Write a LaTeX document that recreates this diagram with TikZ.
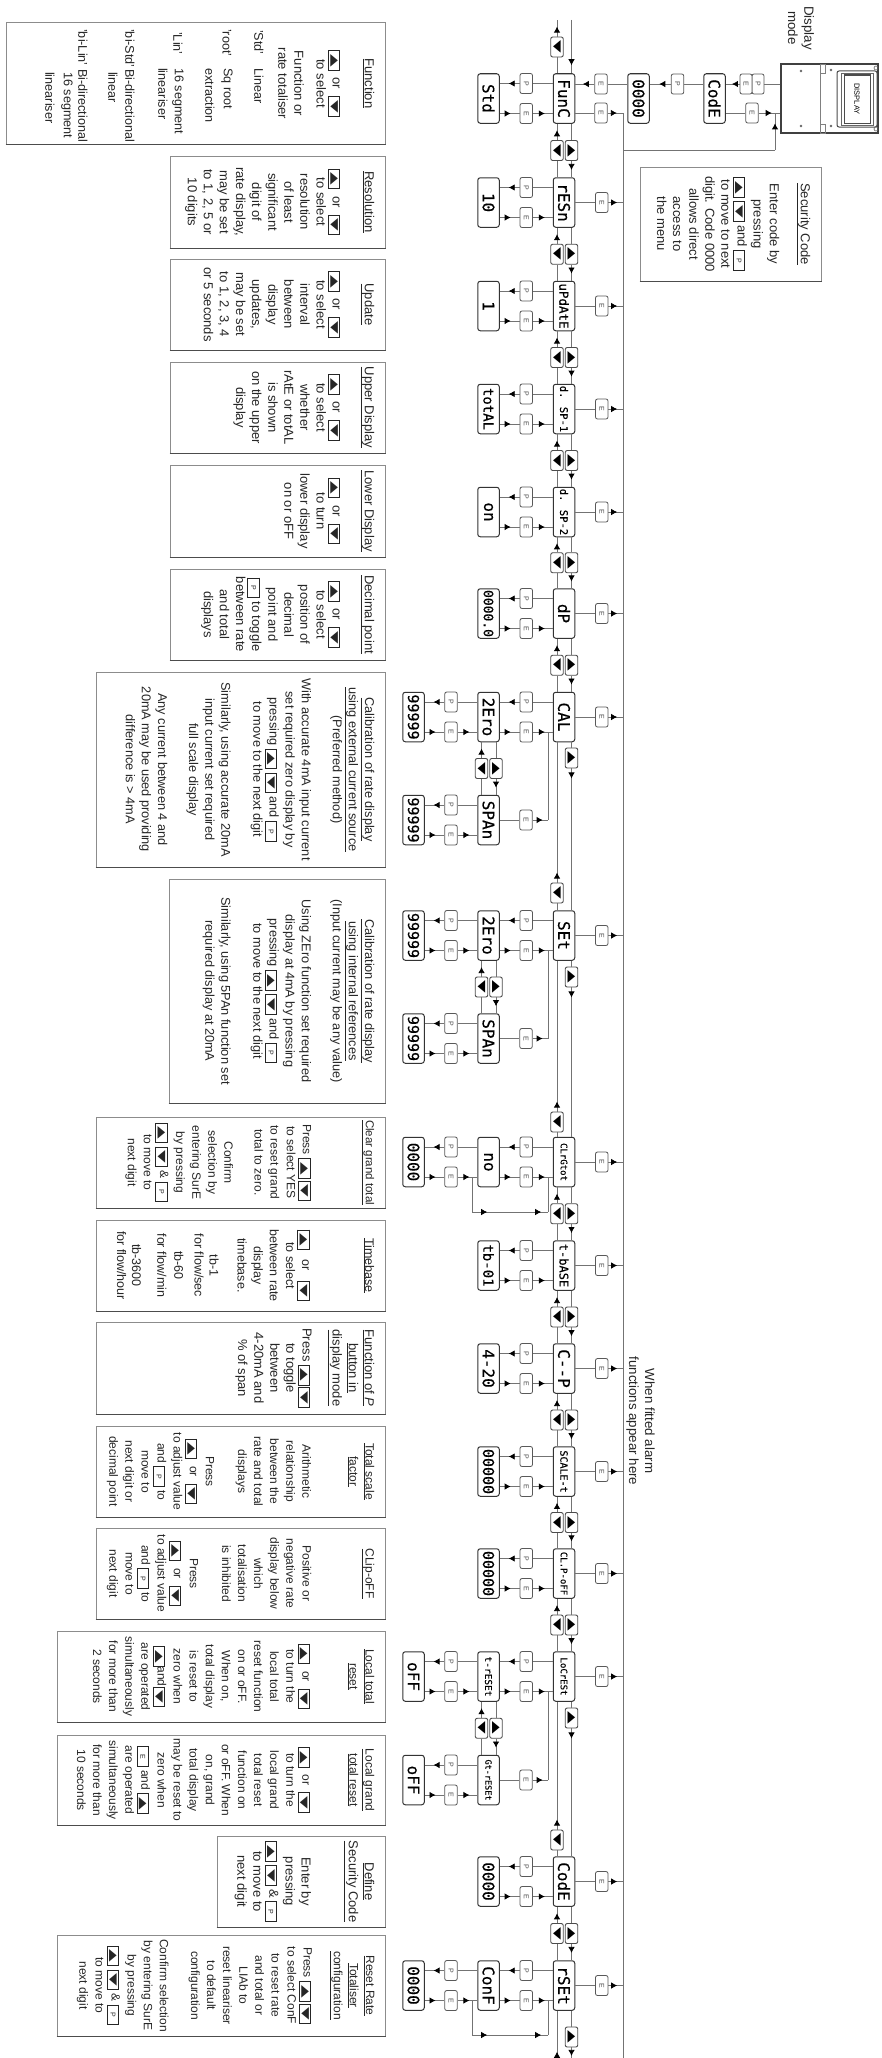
\documentclass[tikz,border=0pt]{standalone}
\usepackage{fontspec}
\usepackage{graphicx}
\setmainfont{Liberation Sans}
\newfontfamily\segfont[FakeBold=0.4]{DejaVu Sans Mono}
\newfontfamily\symf{DejaVu Sans}
\usetikzlibrary{arrows.meta,calc,decorations.markings}
\tikzset{
  conn/.style={draw=black!55,line width=.8pt},
  arrowat/.style={postaction={decorate,decoration={markings,mark=at position #1 with {\arrow{Latex[length=6pt,width=6.5pt,color=black]}}}}},
  seg/.style={draw=black!80,line width=1pt,rounded corners=2.5pt,minimum width=21.5pt,minimum height=49.5pt,inner sep=0pt,fill=white},
  pb/.style={draw=black!65,line width=.8pt,rounded corners=2pt,minimum width=12.5pt,minimum height=20pt,inner sep=0pt,fill=white,text=black!70},
  tb/.style={draw=black!70,line width=.9pt,rounded corners=2pt,minimum width=12.5pt,minimum height=20pt,inner sep=0pt,fill=white},
  panel/.style={draw=black!45,line width=1pt,inner sep=0pt},
  panelbot/.style={draw=black!70,line width=1.6pt},
  paneltext/.style={align=center,inner sep=0pt,text=black!85,font=\fontsize{13}{16.1}\selectfont},
  narrow/.style={font=\fontsize{12}{16.1}\selectfont},
  plain/.style={inner sep=0pt,text=black!85,font=\fontsize{13.3}{16.1}\selectfont},
  plainb/.style={inner sep=0pt,text=black!85,font=\fontsize{12.6}{16.1}\selectfont},
}
\newcommand\ttl[1]{$\underline{\hbox{#1}}$}
\newcommand\ibtn[1]{\raisebox{-1.6pt}{\smash{\setlength\fboxsep{0pt}\setlength\fboxrule{.9pt}\fbox{\parbox[c][10.5pt][c]{18.5pt}{\centering #1}}}}}
\newcommand\tri[1]{{\symf\fontsize{11}{11}\selectfont\scalebox{1.5}[.9]{#1}}}
\newcommand\bU{\ibtn{\tri{▲}}}
\newcommand\bD{\ibtn{\tri{▼}}}
\newcommand\bP{\ibtn{\fontsize{7}{7}\selectfont P}}
\newcommand\bE{\ibtn{\fontsize{7}{7}\selectfont E}}
\newcommand\orr{\bU\hspace{7pt}or\hspace{7pt}\bD}
\newcommand\bb{\bU\hspace{2pt}\bD}
\newcommand\rlab[2]{\rotatebox{-90}{\fontsize{#1}{#1}\selectfont #2}}
\newcommand\segbox[5]{\node[seg] (#1) at (#2,#3) {\rotatebox{-90}{\fontsize{#4}{#4}\selectfont\segfont #5}};}
% [opts] id, xleft, xright, ytop, ybottom, text
\newcommand\notepanel[7][]{%
  \node[panel,minimum width={(#4-#3)*1pt},minimum height={(#6-#5)*1pt}] (n#2) at ({(#4+#3)/2},{(#5+#6)/2}) {};
  \draw[panelbot] (n#2.south west) -- (n#2.south east);
  \node[paneltext,#1,rotate=-90,anchor=north] (t#2) at ({#4-10.5},{(#5+#6)/2}) {#7};
}
% P and E pair between right box #1 and left box #2
\newcommand\pepair[3]{%
  \node[pb,yshift=15pt] (#3p) at ($(#1.west)!.5!(#2.east)$) {\rlab{7}{P}};
  \node[pb,yshift=-15pt] (#3e) at ($(#1.west)!.5!(#2.east)$) {\rlab{7}{E}};
  \draw[conn] (#1.west |- #3p) -- (#3p);
  \draw[conn,arrowat=.55] (#3p) -- (#2.east |- #3p);
  \draw[conn,arrowat=.55] (#2.east |- #3e) -- (#3e);
  \draw[conn,arrowat=.6] (#3e) -- (#1.west |- #3e);
}
% E button to the bus
\newcommand\toBus[1]{%
  \node[pb] (#1r) at ($(#1.east)+(26.5,0)$) {\rlab{7}{E}};
  \draw[conn] (#1) -- (#1r);
  \draw[conn,arrowat=.6] (#1r) -- (#1r -| bus);
}
% id y fs label vfs vlabel
\newcommand\menucore[6]{%
  \segbox{m#1}{564}{#2}{#3}{#4}
  \segbox{v#1}{488.5}{#2}{#5}{#6}
  \pepair{m#1}{v#1}{pm#1}
}
\newcommand\menuitem[6]{\menucore{#1}{#2}{#3}{#4}{#5}{#6}\toBus{m#1}}
% adjacent boxes with two buttons
\newcommand\lnk[3]{%
  \node[tb,xshift=-7pt] (#3u) at ($(#1.south)!.5!(#2.north)$) {\rlab{12}{\tri{▼}}};
  \node[tb,xshift=7.5pt] (#3d) at ($(#1.south)!.5!(#2.north)$) {\rlab{12}{\tri{▲}}};
  \draw[conn] (#2.north -| #3u) -- (#3u);
  \draw[conn,arrowat=.6] (#3u) -- (#1.south -| #3u);
  \draw[conn] (#1.south -| #3d) -- (#3d);
  \draw[conn,arrowat=.55] (#3d) -- (#2.north -| #3d);
}
% boxes far apart: a, b, y of the down button, y of the up button, id
\newcommand\longlnk[5]{%
  \node[tb] (#5u) at (557,#4) {\rlab{12}{\tri{▼}}};
  \node[tb] (#5d) at (571.5,#3) {\rlab{12}{\tri{▲}}};
  \draw[conn] (#2.north -| #5u) -- (#5u);
  \draw[conn,arrowat=10pt] (#5u) -- (#1.south -| #5u);
  \draw[conn] (#1.south -| #5d) -- (#5d);
  \draw[conn,arrowat=10pt] (#5d) -- (#2.north -| #5d);
}
\begin{document}
\begin{tikzpicture}[x=1pt,y=-1pt]
\useasboundingbox[fill=white] (0,0) rectangle (881,2058);
\coordinate (bus) at (623,113);
\coordinate (busend) at (623,2058);
\coordinate (vc) at (548,0);
\draw[conn] (bus) -- (busend);
% device
\node[draw=black!75,line width=1.2pt,minimum width=97pt,minimum height=69pt,inner sep=0pt] (dev) at (829.5,98.5) {};
\draw[black!75,line width=1.6pt] (dev.north west) -- (dev.south west) -- (dev.south east);
\draw[black!50,line width=.7pt] (820,64) -- (820,133) (820,64) rectangle (825,73) (820,124) rectangle (825,133);
\draw[black!70,line width=1pt,rounded corners=2pt] (837,71) rectangle (877,127);
\node[draw=black!70,line width=1pt,minimum width=26pt,minimum height=48pt,inner sep=0pt] (devscreen) at (857,99) {\rlab{7.5}{DISPLAY}};
\draw[black!60,line width=.8pt] (841,73) rectangle (873,125);
\foreach \px/\py in {801/71,801/126,831/70,831/126}{\fill[black!60] (\px,\py) circle (1.3pt);}
\foreach \py in {68,129}{\draw[black!60,line width=.6pt] (876,\py) circle (2pt);}
\node[plain,align=center,rotate=-90,anchor=center] (dmode) at (801,28) {Display\\mode};
% top row
\segbox{top1}{714.5}{98.5}{16}{CodE}
\segbox{top0}{638.5}{98.5}{16}{0000}
\node[pb,minimum width=12pt] (cdP) at (758,84) {\rlab{7}{P}};
\node[pb,minimum width=12pt] (cdE) at (746,84) {\rlab{7}{E}};
\node[pb] (cdR) at (752,113) {\rlab{7}{E}};
\draw[conn] (dev.west |- cdP) -- (cdP);
\draw[conn,arrowat=.55] (cdE) -- (top1.east |- cdE);
\draw[conn] (top1.east |- cdR) -- (cdR);
\draw[conn,arrowat=.6] (cdR) -- (dev.west |- cdR);
\coordinate (retn) at (775,150);
\draw[conn] (bus |- retn) -- (retn);
\draw[conn,arrowat=.72] (retn) -- (retn |- cdR);
\node[pb] (tp) at (677.5,84) {\rlab{7}{P}};
\draw[conn] (top1.west |- tp) -- (tp);
\draw[conn,arrowat=.55] (tp) -- (top0.east |- tp);
% menu
\menucore{1}{98.5}{16}{FunC}{16}{Std}
\node[pb] (te) at (601,84) {\rlab{7}{E}};
\draw[conn] (top0.west |- te) -- (te);
\draw[conn,arrowat=.6] (te) -- (m1.east |- te);
\node[pb] (te2) at (601,113) {\rlab{7}{E}};
\menuitem{2}{202.5}{16}{rESn}{16}{10}
\menuitem{3}{306}{12.5}{uPdAtE}{16}{1}
\menuitem{4}{409}{10.5}{d. SP-1}{14}{totAL}
\menuitem{5}{512}{10.5}{d. SP-2}{16}{on}
\menuitem{6}{613.5}{16}{dP}{13}{0000.0}
\menuitem{7}{717}{16}{CAL}{16}{2Ero}
\menuitem{8}{935.5}{16}{SEt}{16}{2Ero}
\menuitem{9}{1162}{9}{CLrGtot}{16}{no}
\menuitem{10}{1265.5}{12}{t-bASE}{14}{tb-01}
\menuitem{11}{1368.5}{16}{C--P}{16}{4-20}
\menuitem{12}{1471.5}{10}{SCALE-t}{15}{00000}
\menuitem{13}{1573.5}{9}{CL.P-oFF}{15}{00000}
\menuitem{14}{1676.5}{9}{LoCrESt}{9.5}{t-rESEt}
\menuitem{15}{1881.5}{16}{CodE}{16}{0000}
\menuitem{16}{1985.5}{16}{rSEt}{16}{ConF}
\draw[conn,arrowat=.6] (te2) -- (bus);
\draw[conn] (m1.east |- te2) -- (te2);
% links
\lnk{m1}{m2}{a1}
\lnk{m2}{m3}{a2}
\lnk{m3}{m4}{a3}
\lnk{m4}{m5}{a4}
\lnk{m5}{m6}{a5}
\lnk{m6}{m7}{a6}
\longlnk{m7}{m8}{758}{893}{a7}
\longlnk{m8}{m9}{977}{1122}{a8}
\lnk{m9}{m10}{a9}
\lnk{m10}{m11}{a10}
\lnk{m11}{m12}{a11}
\lnk{m12}{m13}{a12}
\lnk{m13}{m14}{a13}
\longlnk{m14}{m15}{1718}{1840}{a14}
\lnk{m15}{m16}{a15}
% ends of the chain
\coordinate (topU) at (557,20);
\coordinate (topD) at (571.5,20);
\node[tb] (enu) at (557,47) {\rlab{12}{\tri{▼}}};
\draw[conn] (m1.north -| enu) -- (enu);
\draw[conn,arrowat=.6] (enu) -- (topU);
\draw[conn,arrowat=-8pt] (topD) -- (m1.north -| topD);
\coordinate (botU) at (557,2058);
\coordinate (botD) at (571.5,2058);
\node[tb] (end) at (571.5,2037) {\rlab{12}{\tri{▲}}};
\draw[conn] (m16.south -| end) -- (end);
\draw[conn,arrowat=.8] (end) -- (botD);
\draw[conn,arrowat=-41pt] (botU) -- (m16.south -| botU);
% second level: CAL
\segbox{w7a}{413.5}{717}{15}{99999}
\pepair{v7}{w7a}{q7}
\segbox{x7}{488.5}{820}{16}{SPAn}
\segbox{w7b}{413.5}{820}{15}{99999}
\pepair{x7}{w7b}{r7}
\lnk{v7}{x7}{b7}
\node[pb] (x7r) at (526,820) {\rlab{7}{E}};
\draw[conn] (x7) -- (x7r);
\draw[conn,arrowat=.65] (x7r) -- (vc |- x7r);
\draw[conn] (vc |- x7r) -- (vc |- pm7e);
% second level: SEt
\segbox{w8a}{413.5}{935.5}{15}{99999}
\pepair{v8}{w8a}{q8}
\segbox{x8}{488.5}{1038.5}{16}{SPAn}
\segbox{w8b}{413.5}{1038.5}{15}{99999}
\pepair{x8}{w8b}{r8}
\lnk{v8}{x8}{b8}
\node[pb] (x8r) at (526,1038.5) {\rlab{7}{E}};
\draw[conn] (x8) -- (x8r);
\draw[conn,arrowat=.65] (x8r) -- (vc |- x8r);
\draw[conn] (vc |- x8r) -- (vc |- pm8e);
% second level: clear grand total
\segbox{w9}{413.5}{1162}{16}{0000}
\pepair{v9}{w9}{q9}
\coordinate (lp9) at (472,1212);
\draw[conn] (lp9 |- q9e) -- (lp9);
\draw[conn,arrowat=.2,arrowat=.91] (lp9) -- (vc |- lp9);
\draw[conn] (vc |- lp9) -- (vc |- pm9e);
% second level: local reset
\segbox{w14a}{413.5}{1676.5}{16}{oFF}
\pepair{v14}{w14a}{q14}
\segbox{x14}{488.5}{1780}{8.5}{Gt-rESEt}
\segbox{w14b}{413.5}{1780}{16}{oFF}
\pepair{x14}{w14b}{r14}
\lnk{v14}{x14}{b14}
\node[pb] (x14r) at (526,1780) {\rlab{7}{E}};
\draw[conn] (x14) -- (x14r);
\draw[conn,arrowat=.65] (x14r) -- (vc |- x14r);
\draw[conn] (vc |- x14r) -- (vc |- pm14e);
% second level: reset
\segbox{w16}{413.5}{1985.5}{16}{0000}
\pepair{v16}{w16}{q16}
\coordinate (lp16) at (472,2035);
\draw[conn] (lp16 |- q16e) -- (lp16);
\draw[conn,arrowat=.2,arrowat=.91] (lp16) -- (vc |- lp16);
\draw[conn] (vc |- lp16) -- (vc |- pm16e);
% security code panel
\notepanel{sec}{640}{821}{167}{281}{\ttl{Security Code}\\[15pt]Enter code by\\pressing\\\bU{} \bD{} and \bP\\to move to next\\digit. Code 0000\\allows direct\\access to\\the menu}
\node[plain,rotate=-90,align=center] (alarm) at (640.5,1421) {When fitted alarm\\functions appear here};
% function panel
\notepanel{fn}{6}{385}{23}{144}{\ttl{Function}\\[16.1pt]\orr\\to select\\[6pt]Function or\\rate totaliser}
\foreach \lx/\ly/\lt/\ln in {
 259/30/{'Std'}/l1, 259/68/{Linear}/l2,
 227/29/{'root'}/l3, 227/68/{Sq root}/l4, 210/68/{extraction}/l5,
 178/32/{'Lin'}/l6, 178/68/{16 segment}/l7, 163/68/{lineariser}/l8,
 130/29/{'bi-Std'}/l9, 130/69/{Bi-directional}/l10, 113/72/{linear}/l11,
 83/29/{'bi-Lin'}/l12, 83/69/{Bi-directional}/l13, 67/72/{16 segment}/l14, 50/72/{lineariser}/l15}{
 \node[plainb,rotate=-90,anchor=west] (\ln) at (\lx,\ly) {\lt};
}
% notes
\notepanel{res}{170}{385}{156}{248}{\ttl{Resolution}\\[16.1pt]\orr\\to select\\resolution\\of least\\significant\\digit of\\rate display,\\may be set\\to 1, 2, 5 or\\10 digits}
\notepanel{upd}{170}{385}{259}{350}{\ttl{Update}\\[16.1pt]\orr\\to select\\interval\\between\\display\\updates,\\may be set\\to 1, 2, 3, 4\\or 5 seconds}
\notepanel{upp}{170}{385}{362}{453}{\ttl{Upper Display}\\[16.1pt]\orr\\to select\\whether\\rAtE or totAL\\is shown\\on the upper\\display}
\notepanel{low}{170}{385}{465}{557}{\ttl{Lower Display}\\[16.1pt]\orr\\to turn\\lower display\\on or oFF}
\notepanel{dec}{170}{385}{569}{660}{\ttl{Decimal point}\\[16.1pt]\orr\\to select\\position of\\decimal\\point and\\\bP{} to toggle\\between rate\\and total\\displays}
\notepanel[font=\fontsize{12.75}{16.1}\selectfont]{cae}{96}{385}{672}{867}{\ttl{Calibration of rate display}\\\ttl{using external current source}\\(Preferred method)\\[15pt]With accurate 4mA input current\\set required zero display by\\pressing \bU{} \bD{} and \bP\\to move to the next digit\\[16pt]Similarly, using accurate 20mA\\input current set required\\full scale display\\[15pt]Any current between 4 and\\20mA may be used providing\\difference is > 4mA}
\notepanel[font=\fontsize{12.75}{16.1}\selectfont]{cai}{169}{385}{879}{1103}{\ttl{Calibration of rate display}\\\ttl{using internal references}\\(Input current may be any value)\\[15pt]Using ZEro function set required\\display at 4mA by pressing\\pressing \bU{} \bD{} and \bP\\to move to the next digit\\[16pt]Similarly, using 5PAn function set\\required display at 20mA}
\notepanel[narrow]{clr}{96}{385}{1117}{1208}{\ttl{\fontsize{11.5}{11.5}\selectfont Clear grand total}\\[47pt]Press \bb\\to select YES\\to reset grand\\total to zero.\\[14pt]Confirm\\selection by\\entering SurE\\by pressing\\\bU{} \bD{} \& \bP\\to move to\\next digit}
\notepanel[font=\fontsize{12.5}{16.1}\selectfont]{tim}{96}{385}{1220}{1311}{\ttl{Timebase}\\[47pt]\bU\hspace{10pt}or\hspace{10pt}\bD\\to select\\between rate\\display\\timebase.\\[12pt]tb-1\\[-1pt]for flow/sec\\[4pt]tb-60\\[1pt]for flow/min\\[9pt]tb-3600\\[-1pt]for flow/hour}
\notepanel{fop}{96}{385}{1322}{1414}{\ttl{Function of \textit{P}}\\\ttl{button in}\\\ttl{display mode}\\[14pt]Press \bb\\to toggle\\between\\4-20mA and\\\% of span}
\notepanel[narrow]{tsf}{96}{385}{1426}{1517}{\ttl{Total scale}\\\ttl{factor}\\[31pt]Arithmetic\\relationship\\between the\\rate and total\\displays\\[16pt]Press\\\orr\\to adjust value\\and \bP{} to\\move to\\next digit or\\decimal point}
\notepanel[narrow]{clp}{96}{385}{1528}{1619}{\ttl{CLip-oFF}\\[47pt]Positive or\\negative rate\\display below\\which\\totalisation\\is inhibited\\[16pt]Press\\\orr\\to adjust value\\and \bP{} to\\move to\\next digit}
\notepanel[narrow]{ltr}{57}{385}{1631}{1722}{\ttl{Local total}\\\ttl{reset}\\[31pt]\orr\\to turn the\\local total\\reset function\\on or oFF.\\When on,\\total display\\is reset to\\zero when\\\bU{}and\bD\\are operated\\simultaneously\\for more than\\2 seconds}
\notepanel[narrow]{lgr}{57}{385}{1735}{1825}{\ttl{Local grand}\\\ttl{total reset}\\[31pt]\orr\\to turn the\\local grand\\total reset\\function on\\or oFF. When\\on, grand\\total display\\may be reset to\\zero when\\\bE{} and \bU\\are operated\\simultaneously\\for more than\\10 seconds}
\notepanel{def}{217}{385}{1836}{1927}{\ttl{Define}\\\ttl{Security Code}\\[31pt]Enter by\\pressing\\\bU{} \bD{} \& \bP\\to move to\\next digit}
\notepanel[narrow]{rrt}{57}{385}{1935}{2036}{\ttl{Reset Rate}\\\ttl{Totaliser}\\\ttl{configuration}\\[14pt]Press \bb\\to select ConF\\to reset rate\\and total or\\LIAb to\\reset lineariser\\to default\\configuration\\[15pt]Confirm selection\\by entering SurE\\by pressing\\\bU{} \bD{} \& \bP\\to move to\\next digit}
\end{tikzpicture}
\end{document}
